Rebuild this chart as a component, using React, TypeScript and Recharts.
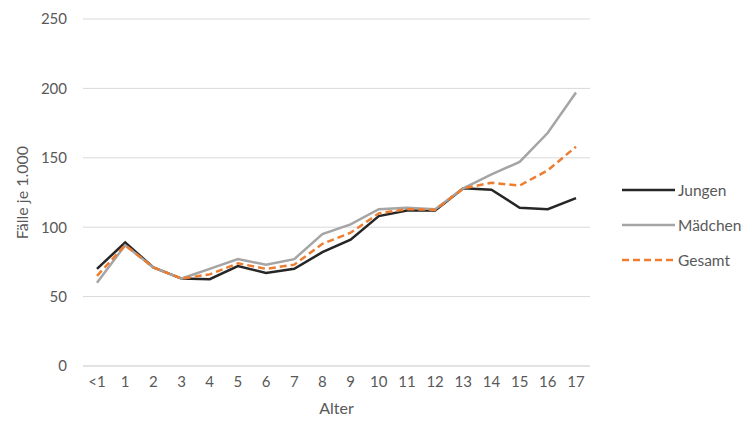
import React from 'react';
import { LineChart, Line, XAxis, YAxis, CartesianGrid } from 'recharts';

const ages = ['<1', '1', '2', '3', '4', '5', '6', '7', '8', '9', '10', '11', '12', '13', '14', '15', '16', '17'];
const jungen = [70, 89, 71, 63, 62.5, 72, 67, 70, 82, 91, 108, 112, 112, 128, 127, 114, 113, 121];
const maedchen = [60, 87, 71, 63, 70, 77, 73, 77, 95, 102, 113, 114, 113, 128, 138, 147, 168, 197];
const gesamt = [65, 87, 71, 63, 66, 74, 70, 73, 88, 96, 110, 113, 112.5, 128, 132, 130, 141, 158];
const yTicks = [0, 50, 100, 150, 200, 250];

const data = ages.map((age, i) => ({
  age,
  Jungen: jungen[i],
  Mädchen: maedchen[i],
  Gesamt: gesamt[i],
}));

const font = 'Lato, "Open Sans", sans-serif';
const textColor = '#595959';

const legendItems = [
  { name: 'Jungen', color: '#262626', dash: undefined },
  { name: 'Mädchen', color: '#a5a5a5', dash: undefined },
  { name: 'Gesamt', color: '#ed7d31', dash: '7 4' },
];

// legend sits to the right of the plot, drawn outside the chart so it doesn't shrink the plot
function ChartLegend() {
  return (
    <div style={{ position: 'absolute', left: 622, top: 172, fontFamily: font, fontSize: 15.5, color: textColor }}>
      {legendItems.map((item) => (
        <div key={item.name} style={{ display: 'flex', alignItems: 'center', height: 35 }}>
          <svg width={54} height={6}>
            <line x1={0} y1={3} x2={53} y2={3} stroke={item.color} strokeWidth={2.5} strokeDasharray={item.dash} />
          </svg>
          <span style={{ marginLeft: 2 }}>{item.name}</span>
        </div>
      ))}
    </div>
  );
}

export default function App() {
  return (
    <div style={{ position: 'absolute', left: 0, top: 0, width: 753, height: 429, background: '#fff' }}>
      <LineChart width={753} height={429} data={data} margin={{ top: 19, right: 163, bottom: 10, left: 0 }}>
        <CartesianGrid vertical={false} stroke="#d9d9d9" strokeWidth={1} />
        <XAxis
          dataKey="age"
          axisLine={{ stroke: '#d9d9d9' }}
          tickLine={false}
          tickSize={0}
          tickMargin={10}
          height={53}
          interval={0}
          padding={{ left: 14, right: 14 }}
          tick={{ fill: textColor, fontSize: 15, fontFamily: font }}
          label={{ value: 'Alter', position: 'insideBottom', offset: 5, fill: textColor, fontSize: 16, fontFamily: font }}
        />
        <YAxis
          domain={[0, 250]}
          ticks={yTicks}
          axisLine={false}
          tickLine={false}
          tickSize={0}
          tickMargin={16}
          width={83}
          tick={{ fill: textColor, fontSize: 15, fontFamily: font }}
          label={{ value: 'Fälle je 1.000', angle: -90, position: 'insideLeft', offset: 22, fill: textColor, fontSize: 16, fontFamily: font, style: { textAnchor: 'middle' } }}
        />
        <Line type="linear" dataKey="Jungen" stroke="#262626" strokeWidth={2.5} dot={false} isAnimationActive={false} />
        <Line type="linear" dataKey="Mädchen" stroke="#a5a5a5" strokeWidth={2.5} dot={false} isAnimationActive={false} />
        <Line type="linear" dataKey="Gesamt" stroke="#ed7d31" strokeWidth={2.5} strokeDasharray="7 4" dot={false} isAnimationActive={false} />
      </LineChart>
      <ChartLegend />
    </div>
  );
}
